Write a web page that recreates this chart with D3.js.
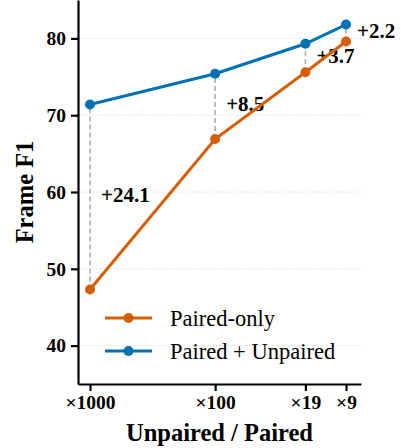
<!DOCTYPE html>
<html>
<head>
<meta charset="utf-8">
<script src="https://cdn.jsdelivr.net/npm/d3@7"></script>
<style>
  body { margin: 0; background: #fff; }
  svg { display: block; }
  .axis path, .axis line { stroke: #000; stroke-width: 2.2px; }
</style>
</head>
<body>
<div id="svg-container"></div>
<script>
// data
const ratios = [1000, 100, 19, 9];
const tickLabels = ["×1000", "×100", "×19", "×9"];
const pairedOnly = [47.3, 66.9, 75.6, 79.6];
const pairedUnpaired = [71.4, 75.4, 79.3, 81.8];
const gains = ["+24.1", "+8.5", "+3.7", "+2.2"];
const yTicks = [40, 50, 60, 70, 80];

const width = 401;
const height = 448;
const margin = { top: 0, right: 40, bottom: 64, left: 78 };

const orange = "#d55e00";
const blue = "#0072b2";
const serif = "'Liberation Serif', 'Times New Roman', serif";

const svg = d3.select("#svg-container").append("svg")
  .attr("width", width).attr("height", height);

// scales (log, reversed so ratio shrinks to the right)
const xScale = d3.scaleLog()
  .domain([1247, 6.83])
  .range([margin.left, width - margin.right]);
const yScale = d3.scaleLinear()
  .domain([35, 85])
  .range([height - margin.bottom, margin.top]);

// grid
svg.append("g")
  .selectAll("line")
  .data(yTicks)
  .join("line")
  .attr("x1", margin.left)
  .attr("x2", width - margin.right)
  .attr("y1", (d) => yScale(d))
  .attr("y2", (d) => yScale(d))
  .attr("stroke", "#dadada")
  .attr("stroke-width", 0.8)
  .attr("stroke-dasharray", "1.5,1.5");

// axes
const xAxis = d3.axisBottom(xScale)
  .tickValues(ratios)
  .tickFormat((d, i) => tickLabels[i])
  .tickSize(7)
  .tickPadding(4)
  .tickSizeOuter(0);
const yAxis = d3.axisLeft(yScale)
  .tickValues(yTicks)
  .tickSize(7)
  .tickPadding(5)
  .tickSizeOuter(0);

const styleTicks = (g) =>
  g.selectAll("text")
    .style("font-family", serif)
    .style("font-weight", "bold")
    .style("font-size", "19.5px")
    .attr("fill", "#000");

svg.append("g")
  .attr("class", "axis x-axis")
  .attr("transform", `translate(0, ${height - margin.bottom})`)
  .call(xAxis)
  .call(styleTicks);
svg.append("g")
  .attr("class", "axis y-axis")
  .attr("transform", `translate(${margin.left}, 0)`)
  .call(yAxis)
  .call(styleTicks);

// axis titles
svg.append("text")
  .attr("x", (margin.left + width - margin.right) / 2)
  .attr("y", 441)
  .attr("text-anchor", "middle")
  .style("font-family", serif)
  .style("font-weight", "bold")
  .style("font-size", "24.5px")
  .text("Unpaired / Paired");
svg.append("text")
  .attr("transform", `translate(33, ${(margin.top + height - margin.bottom) / 2}) rotate(-90)`)
  .attr("text-anchor", "middle")
  .style("font-family", serif)
  .style("font-weight", "bold")
  .style("font-size", "24.5px")
  .text("Frame F1");

// gap lines
svg.append("g")
  .selectAll("line")
  .data(ratios)
  .join("line")
  .attr("x1", (d) => xScale(d))
  .attr("x2", (d) => xScale(d))
  .attr("y1", (d, i) => yScale(pairedOnly[i]))
  .attr("y2", (d, i) => yScale(pairedUnpaired[i]))
  .attr("stroke", "#aaaaaa")
  .attr("stroke-width", 1.5)
  .attr("stroke-dasharray", "5,3");

// gain labels
svg.append("g")
  .selectAll("text")
  .data(ratios)
  .join("text")
  .attr("x", (d) => xScale(d) + 11)
  .attr("y", (d, i) => yScale((pairedOnly[i] + pairedUnpaired[i]) / 2) - 2)
  .attr("dominant-baseline", "central")
  .style("font-family", serif)
  .style("font-weight", "bold")
  .style("font-size", "21px")
  .text((d, i) => gains[i]);

// series
const line = d3.line()
  .x((d, i) => xScale(ratios[i]))
  .y((d) => yScale(d));

const addSeries = (values, color) => {
  svg.append("path")
    .datum(values)
    .attr("fill", "none")
    .attr("stroke", color)
    .attr("stroke-width", 3)
    .attr("d", line);
  svg.append("g")
    .selectAll("circle")
    .data(values)
    .join("circle")
    .attr("cx", (d, i) => xScale(ratios[i]))
    .attr("cy", (d) => yScale(d))
    .attr("r", 5)
    .attr("fill", color);
};
addSeries(pairedOnly, orange);
addSeries(pairedUnpaired, blue);

// legend
const legend = [
  { label: "Paired-only", color: orange, y: 318 },
  { label: "Paired + Unpaired", color: blue, y: 351 },
];
const lg = svg.append("g").selectAll("g").data(legend).join("g")
  .attr("transform", (d) => `translate(105, ${d.y})`);
lg.append("line")
  .attr("x1", 0).attr("x2", 47)
  .attr("stroke", (d) => d.color)
  .attr("stroke-width", 3);
lg.append("circle")
  .attr("cx", 23.5).attr("r", 5)
  .attr("fill", (d) => d.color);
lg.append("text")
  .attr("x", 65)
  .attr("y", 8)
  .style("font-family", serif)
  .style("font-size", "22.5px")
  .text((d) => d.label);
</script>
</body>
</html>
